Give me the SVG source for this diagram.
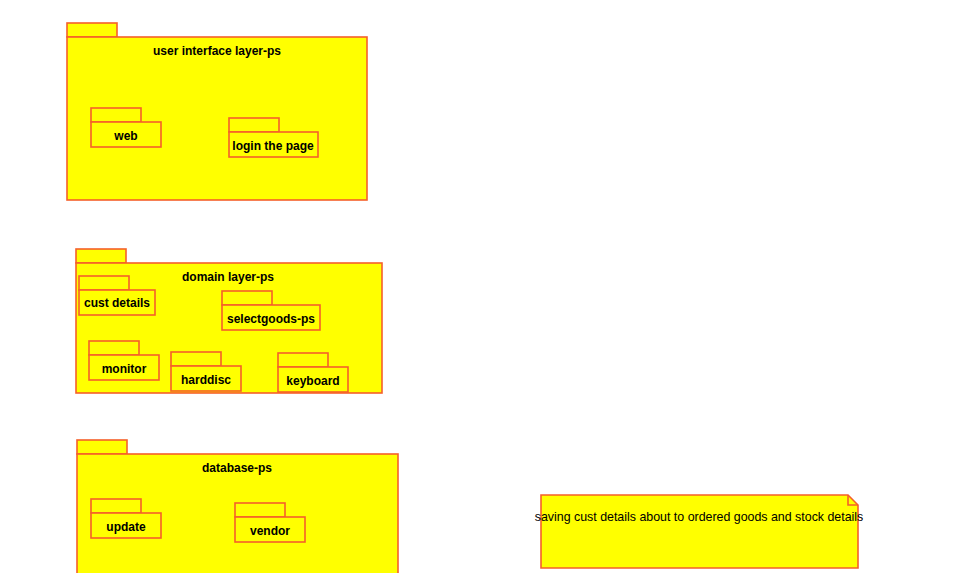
<svg xmlns="http://www.w3.org/2000/svg" width="958" height="573" viewBox="0 0 958 573">
  <style>
    .pkg { fill: #ffff00; stroke: #f5602a; stroke-width: 1.6; }
    .lbl { font-family: "Liberation Sans", Arial, sans-serif; font-size: 12px; font-weight: bold; fill: #000; text-anchor: middle; }
    .note-text { font-family: "Liberation Sans", Arial, sans-serif; font-size: 12.4px; fill: #000; text-anchor: middle; }
  </style>
  <rect width="958" height="573" fill="#ffffff"/>

  <!-- user interface layer -->
  <g id="ui-layer">
    <rect class="pkg" x="67" y="23" width="50" height="14"/>
    <rect class="pkg" x="67" y="37" width="300" height="163"/>
    <text class="lbl" x="217" y="55">user interface layer-ps</text>
  </g>
  <g id="web">
    <rect class="pkg" x="91" y="108" width="50" height="14"/>
    <rect class="pkg" x="91" y="122" width="70" height="25"/>
    <text class="lbl" x="126" y="140">web</text>
  </g>
  <g id="login">
    <rect class="pkg" x="229" y="118" width="50" height="14"/>
    <rect class="pkg" x="229" y="132" width="89" height="25"/>
    <text class="lbl" x="273" y="150">login the page</text>
  </g>

  <!-- domain layer -->
  <g id="domain-layer">
    <rect class="pkg" x="76" y="249" width="50" height="14"/>
    <rect class="pkg" x="76" y="263" width="306" height="130"/>
    <text class="lbl" x="228" y="281">domain layer-ps</text>
  </g>
  <g id="cust-details">
    <rect class="pkg" x="79" y="276" width="50" height="14"/>
    <rect class="pkg" x="79" y="290" width="76" height="25"/>
    <text class="lbl" x="117" y="307">cust details</text>
  </g>
  <g id="selectgoods">
    <rect class="pkg" x="222" y="291" width="50" height="14"/>
    <rect class="pkg" x="222" y="305" width="98" height="25"/>
    <text class="lbl" x="271" y="323">selectgoods-ps</text>
  </g>
  <g id="monitor">
    <rect class="pkg" x="89" y="341" width="50" height="14"/>
    <rect class="pkg" x="89" y="355" width="70" height="25"/>
    <text class="lbl" x="124" y="373">monitor</text>
  </g>
  <g id="harddisc">
    <rect class="pkg" x="171" y="352" width="50" height="14"/>
    <rect class="pkg" x="171" y="366" width="70" height="25"/>
    <text class="lbl" x="206" y="384">harddisc</text>
  </g>
  <g id="keyboard">
    <rect class="pkg" x="278" y="353" width="50" height="14"/>
    <rect class="pkg" x="278" y="367" width="70" height="25"/>
    <text class="lbl" x="313" y="385">keyboard</text>
  </g>

  <!-- database layer -->
  <g id="database-layer">
    <rect class="pkg" x="77" y="440" width="50" height="14"/>
    <rect class="pkg" x="77" y="454" width="321" height="125"/>
    <text class="lbl" x="237" y="472">database-ps</text>
  </g>
  <g id="update">
    <rect class="pkg" x="91" y="499" width="50" height="14"/>
    <rect class="pkg" x="91" y="513" width="70" height="25"/>
    <text class="lbl" x="126" y="531">update</text>
  </g>
  <g id="vendor">
    <rect class="pkg" x="235" y="503" width="50" height="14"/>
    <rect class="pkg" x="235" y="517" width="70" height="25"/>
    <text class="lbl" x="270" y="535">vendor</text>
  </g>

  <!-- note -->
  <g id="note">
    <path class="pkg" d="M541 495 H848 L858 505 V568 H541 Z"/>
    <path d="M848 495 V505 H858" fill="none" stroke="#f5602a" stroke-width="1.6"/>
    <text class="note-text" x="699" y="521">saving cust details about to ordered goods and stock details</text>
  </g>

  <g id="connectors"></g>
</svg>
